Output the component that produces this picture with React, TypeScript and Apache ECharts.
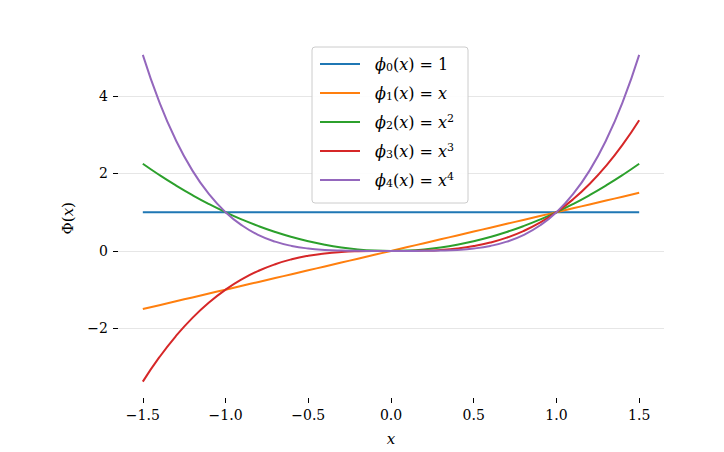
import React, { useEffect, useRef } from 'react';
import * as echarts from 'echarts';

const xs = [-1.5, -1.4, -1.3, -1.2, -1.1, -1.0, -0.9, -0.8, -0.7, -0.6, -0.5, -0.4, -0.3, -0.2, -0.1, 0, 0.1, 0.2, 0.3, 0.4, 0.5, 0.6, 0.7, 0.8, 0.9, 1.0, 1.1, 1.2, 1.3, 1.4, 1.5];
const phi0 = [1, 1, 1, 1, 1, 1, 1, 1, 1, 1, 1, 1, 1, 1, 1, 1, 1, 1, 1, 1, 1, 1, 1, 1, 1, 1, 1, 1, 1, 1, 1];
const phi1 = [-1.5, -1.4, -1.3, -1.2, -1.1, -1.0, -0.9, -0.8, -0.7, -0.6, -0.5, -0.4, -0.3, -0.2, -0.1, 0, 0.1, 0.2, 0.3, 0.4, 0.5, 0.6, 0.7, 0.8, 0.9, 1.0, 1.1, 1.2, 1.3, 1.4, 1.5];
const phi2 = [2.25, 1.96, 1.69, 1.44, 1.21, 1, 0.81, 0.64, 0.49, 0.36, 0.25, 0.16, 0.09, 0.04, 0.01, 0, 0.01, 0.04, 0.09, 0.16, 0.25, 0.36, 0.49, 0.64, 0.81, 1, 1.21, 1.44, 1.69, 1.96, 2.25];
const phi3 = [-3.375, -2.744, -2.197, -1.728, -1.331, -1, -0.729, -0.512, -0.343, -0.216, -0.125, -0.064, -0.027, -0.008, -0.001, 0, 0.001, 0.008, 0.027, 0.064, 0.125, 0.216, 0.343, 0.512, 0.729, 1, 1.331, 1.728, 2.197, 2.744, 3.375];
const phi4 = [5.0625, 3.8416, 2.8561, 2.0736, 1.4641, 1, 0.6561, 0.4096, 0.2401, 0.1296, 0.0625, 0.0256, 0.0081, 0.0016, 0.0001, 0, 0.0001, 0.0016, 0.0081, 0.0256, 0.0625, 0.1296, 0.2401, 0.4096, 0.6561, 1, 1.4641, 2.0736, 2.8561, 3.8416, 5.0625];

const seriesNames = ['ϕ0(x) = 1', 'ϕ1(x) = x', 'ϕ2(x) = x2', 'ϕ3(x) = x3', 'ϕ4(x) = x4'];
const legendRich = [
  '{sp|}{i|ϕ}{sub|0}{n|(}{i|x}{n|) = 1}',
  '{sp|}{i|ϕ}{sub|1}{n|(}{i|x}{n|) = }{i|x}',
  '{sp|}{i|ϕ}{sub|2}{n|(}{i|x}{n|) = }{i|x}{sup|2}',
  '{sp|}{i|ϕ}{sub|3}{n|(}{i|x}{n|) = }{i|x}{sup|3}',
  '{sp|}{i|ϕ}{sub|4}{n|(}{i|x}{n|) = }{i|x}{sup|4}',
];
const colors = ['#1f77b4', '#ff7f0e', '#2ca02c', '#d62728', '#9467bd'];
const xTicks = [-1.5, -1.0, -0.5, 0, 0.5, 1.0, 1.5];
const yTicks = [-2, 0, 2, 4];

const FONT = '"DejaVu Serif", "Liberation Serif", serif';

const rich = {
  sp: { width: 10, fontSize: 16 },
  i: { fontFamily: FONT, fontStyle: 'italic', fontSize: 16, color: '#000' },
  n: { fontFamily: FONT, fontSize: 16, color: '#000' },
  sub: { fontFamily: FONT, fontSize: 11, color: '#000', padding: [7, 0, 0, 0] },
  sup: { fontFamily: FONT, fontSize: 11, color: '#000', padding: [0, 0, 8, 0] },
};
const axisRich = {
  i: { fontFamily: FONT, fontStyle: 'italic', fontSize: 15, color: '#000' },
  n: { fontFamily: FONT, fontSize: 15, color: '#000' },
};

const fmt = (v: number) => (v < 0 ? '−' + Math.abs(v).toFixed(1) : v.toFixed(1));
const fmtY = (v: number) => (v < 0 ? '−' + Math.abs(v) : String(v));

export default function App() {
  const ref = useRef<HTMLDivElement>(null);
  useEffect(() => {
    if (!ref.current) return;
    const chart = echarts.init(ref.current, null, { renderer: 'svg' });
    const all = [phi0, phi1, phi2, phi3, phi4];
    chart.setOption({
      animation: false,
      backgroundColor: '#fff',
      grid: { left: 118, right: 60, top: 38.5, bottom: 54, containLabel: false },
      legend: {
        data: seriesNames,
        orient: 'vertical',
        left: 312,
        top: 47,
        icon: 'rect',
        itemWidth: 40,
        itemHeight: 2,
        itemGap: 9,
        padding: [7, 14, 13, 8],
        borderColor: '#cccccc',
        borderWidth: 1,
        borderRadius: 3,
        backgroundColor: 'rgba(255,255,255,0.9)',
        formatter: (name: string) => legendRich[seriesNames.indexOf(name)],
        textStyle: { fontFamily: FONT, fontSize: 16, lineHeight: 20, rich },
      },
      xAxis: {
        type: 'value',
        min: -1.65,
        max: 1.65,
        name: '{i|x}',
        nameLocation: 'middle',
        nameGap: 33,
        nameTextStyle: { rich: axisRich },
        axisLine: { show: false, onZero: false },
        axisTick: { show: true, customValues: xTicks, length: 5, lineStyle: { color: '#000', width: 1 } },
        axisLabel: {
          customValues: xTicks,
          formatter: fmt,
          margin: 10,
          fontFamily: FONT,
          fontSize: 14,
          color: '#000',
        },
        splitLine: { show: false },
      },
      yAxis: {
        type: 'value',
        min: -3.797,
        max: 5.484,
        name: '{n|Φ(}{i|x}{n|)}',
        nameLocation: 'middle',
        nameGap: 43,
        nameRotate: 90,
        nameTextStyle: { rich: axisRich },
        axisLine: { show: false, onZero: false },
        axisTick: { show: true, customValues: yTicks, length: 5, lineStyle: { color: '#000', width: 1 } },
        axisLabel: {
          customValues: yTicks,
          formatter: fmtY,
          margin: 10,
          fontFamily: FONT,
          fontSize: 14,
          color: '#000',
        },
        splitLine: { show: true, lineStyle: { color: '#e6e6e6', width: 1 } },
      },
      series: all.map((ys, k) => ({
        name: seriesNames[k],
        type: 'line',
        data: xs.map((x, j) => [x, ys[j]]),
        showSymbol: false,
        symbol: 'none',
        smooth: true,
        color: colors[k],
        lineStyle: { color: colors[k], width: 2 },
        z: 2 + k,
      })),
    });
    return () => chart.dispose();
  }, []);
  return <div ref={ref} style={{ position: 'absolute', left: 0, top: 0, width: 724, height: 452 }} />;
}
